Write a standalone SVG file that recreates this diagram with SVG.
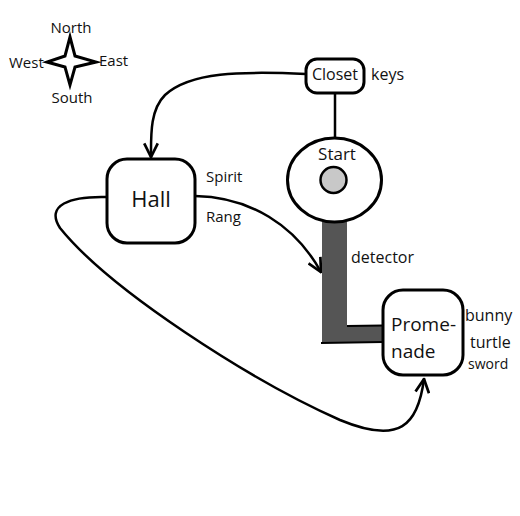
<svg xmlns="http://www.w3.org/2000/svg" width="520" height="516" viewBox="0 0 520 516">
<style>
text{font-family:"Open Sans","Noto Sans","DejaVu Sans",sans-serif;fill:#111}
.box{fill:#fff;stroke:#000;stroke-width:3}
.edge{fill:none;stroke:#000;stroke-width:2.5;stroke-linecap:round}
.lbl{font-size:15px}
.cmp{font-size:15px}
</style>
<defs>
<marker id="arr" viewBox="0 0 12 12" refX="11" refY="6" markerWidth="6.5" markerHeight="6.5" orient="auto" markerUnits="strokeWidth">
<path d="M1,1 L11,6 L1,11" fill="none" stroke="#000" stroke-width="2" stroke-linejoin="miter"/>
</marker>
</defs>
<rect width="520" height="516" fill="#fff"/>
<g id="compass">
<path d="M70,37 L75,56 L96,62 L75,67 L70,85 L65,67 L47,62 L65,56 Z" fill="#fff" stroke="#000" stroke-width="3" stroke-linejoin="miter"/>
<text x="71" y="33" text-anchor="middle" class="cmp">North</text>
<text x="9" y="68" class="cmp">West</text>
<text x="99" y="66" class="cmp">East</text>
<text x="72" y="103" text-anchor="middle" class="cmp">South</text>
</g>
<g id="connectors">
<path class="edge" d="M306,74 C240,71 190,72 165,95 C150,110 151,135 151,157" marker-end="url(#arr)"/>
<line class="edge" x1="335" y1="93" x2="335" y2="139"/>
<path class="edge" d="M195,196 C250,197 295,225 321,272" marker-end="url(#arr)"/>
<path class="edge" d="M107,197 C70,196 45,205 60,228 C110,290 250,380 340,420 C400,445 418,425 424,379" marker-end="url(#arr)"/>
<path d="M322,222 L347,222 L347,326 L383,326 L383,343 L322,343 Z" fill="#555"/>
<line x1="347" y1="326" x2="383" y2="325.5" stroke="#000" stroke-width="2"/>
<line x1="321" y1="343" x2="383" y2="342" stroke="#000" stroke-width="2"/>
<text x="351" y="263" font-size="16">detector</text>
</g>
<g id="closet">
<rect class="box" x="306" y="59" width="58" height="34" rx="11"/>
<text x="335" y="80" text-anchor="middle" font-size="16">Closet</text>
<text x="371" y="80" font-size="16">keys</text>
</g>
<g id="start">
<ellipse class="box" cx="334.5" cy="180" rx="47" ry="42"/>
<text x="337" y="160" text-anchor="middle" font-size="17">Start</text>
<circle cx="333.5" cy="180" r="13" fill="#c8c8c8" stroke="#000" stroke-width="2.5"/>
</g>
<g id="hall">
<rect class="box" x="107" y="159" width="88" height="84" rx="20"/>
<text x="151" y="207" text-anchor="middle" font-size="22">Hall</text>
<text x="206" y="182" class="lbl">Spirit</text>
<text x="206" y="222" class="lbl">Rang</text>
</g>
<g id="promenade">
<rect class="box" x="383" y="290" width="80" height="85" rx="20"/>
<text x="391" y="331" font-size="19">Prome-</text>
<text x="391" y="358" font-size="19">nade</text>
<text x="465" y="321" font-size="16">bunny</text>
<text x="470" y="348" font-size="16">turtle</text>
<text x="468" y="369" font-size="14">sword</text>
</g>
</svg>
